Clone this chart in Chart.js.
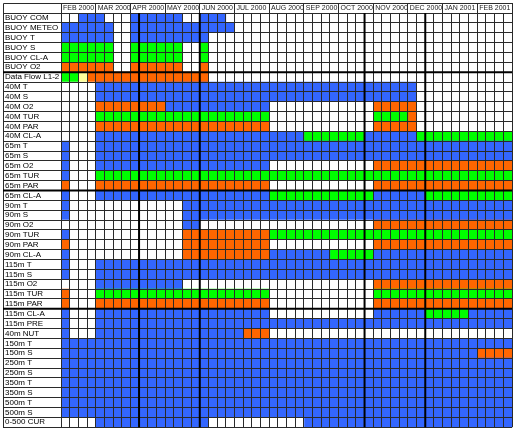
<!DOCTYPE html>
<html>
<head>
<meta charset="utf-8">
<script src="https://cdn.jsdelivr.net/npm/chart.js@4/dist/chart.umd.min.js"></script>
<style>
  body { margin: 0; background: #fff; }
  #wrap { width: 514px; height: 432px; }
</style>
</head>
<body>
<div id="wrap"><canvas id="gridChart"></canvas></div>
<script>
// month headers, each spans 4 weekly columns
const months = ["FEB 2000", "MAR 2000", "APR 2000", "MAY 2000", "JUN 2000", "JUL 2000",
  "AUG 2000", "SEP 2000", "OCT 2000", "NOV 2000", "DEC 2000", "JAN 2001", "FEB 2001"];

const rowLabels = [
  "BUOY COM", "BUOY METEO", "BUOY T", "BUOY S", "BUOY CL-A", "BUOY O2", "Data Flow L1-2",
  "40M T", "40M S", "40M O2", "40M TUR", "40M PAR", "40M CL-A",
  "65m T", "65m S", "65m O2", "65m TUR", "65m PAR", "65m CL-A",
  "90m T", "90m S", "90m O2", "90m TUR", "90m PAR", "90m CL-A",
  "115m T", "115m S", "115m O2", "115m TUR", "115m PAR", "115m CL-A", "115m PRE",
  "40m NUT", "150m T", "150m S", "250m T", "250m S", "350m T", "350m S",
  "500m T", "500m S", "0-500 CUR"
];

// weekly status per row: B blue, G green, O orange, Y yellow, . none
// (groups of 4 weeks = one month)
const cells = [
  "..BB B... BBBB BB.. BBB. .... .... .... .... .... .... .... ....",
  "BBBB BB.. BBBB BBBB BBBB .... .... .... .... .... .... .... ....",
  "BBBB BB.. BBBB BBBB B... .... .... .... .... .... .... .... ....",
  "GGGG GG.. GGGG GG.. G... .... .... .... .... .... .... .... ....",
  "GGGG GG.. GGGG GG.. G... .... .... .... .... .... .... .... ....",
  "OOOO OO.. OOOO OO.. O... .... .... .... .... .... .... .... ....",
  "GGYO OOOO OOOO OOOO O... .... .... .... .... .... .... .... ....",
  ".... BBBB BBBB BBBB BBBB BBBB BBBB BBBB BBBB BBBB B... .... ....",
  ".... BBBB BBBB BBBB BBBB BBBB BBBB BBBB BBBB BBBB B... .... ....",
  ".... OOOO OOOO BBBB BBBB BBBB .... .... .... OOOO O... .... ....",
  ".... GGGG GGGG GGGG GGGG GGGG .... .... .... GGGG O... .... ....",
  ".... OOOO OOOO OOOO OOOO OOOO .... .... .... OOOO O... .... ....",
  ".... BBBB BBBB BBBB BBBB BBBB BBBB GGGG GGGB BBBB BGGG GGGG GGGG",
  "B... BBBB BBBB BBBB BBBB BBBB BBBB BBBB BBBB BBBB BBBB BBBB BBBB",
  "B... BBBB BBBB BBBB BBBB BBBB BBBB BBBB BBBB BBBB BBBB BBBB BBBB",
  "B... BBBB BBBB BBBB BBBB BBBB .... .... .... OOOO OOOO OOOO OOOO",
  "B... GGGG GGGG GGGG GGGG GGGG GGGG GGGG GGGG GGGG GGGG GGGG GGGG",
  "O... OOOO OOOO OOOO OOOO OOOO .... .... .... OOOO OOOO OOOO OOOO",
  "B... BBBB BBBB BBBB BBBB BBBB GGGG GGGG GGGG BBBB BBGG GGGG GGGG",
  "B... .... .... ..BB BBBB BBBB BBBB BBBB BBBB BBBB BBBB BBBB BBBB",
  "B... .... .... ..BB BBBB BBBB BBBB BBBB BBBB BBBB BBBB BBBB BBBB",
  ".... .... .... ..BB .... .... .... .... .... OOOO OOOO OOOO OOOO",
  "B... .... .... ..OO OOOO OOOO GGGG GGGG GGGG GGGG GGGG GGGG GGGG",
  "O... .... .... ..OO OOOO OOOO .... .... .... OOOO OOOO OOOO OOOO",
  "B... .... .... ..OO OOOO OOOO BBBB BBBG GGGG BBBB BBBB BBBB BBBB",
  "B... BBBB BBBB BBBB BBBB BBBB BBBB BBBB BBBB BBBB BBBB BBBB BBBB",
  "B... BBBB BBBB BBBB BBBB BBBB BBBB BBBB BBBB BBBB BBBB BBBB BBBB",
  ".... BBBB BBBB BB.. .... .... .... .... .... OOOO OOOO OOOO OOOO",
  "O... GGGG GGGG GGGG GGGG GGGG .... .... .... GGGG GGGG GGGG GGGG",
  "O... OOOO OOOO OOOO OOOO OOOO .... .... .... OOOO OOOO OOOO OOOO",
  "B... BBBB BBBB BBBB BBBB BBBB .... .... .... BBBB BBGG GGGB BBBB",
  "B... BBBB BBBB BBBB BBBB BBBB BBBB BBBB BBBB BBBB BBBB BBBB BBBB",
  "B... BBBB BBBB BBBB BBBB BOOO .... .... .... .... .... .... ....",
  "BBBB BBBB BBBB BBBB BBBB BBBB BBBB BBBB BBBB BBBB BBBB BBBB BBBB",
  "BBBB BBBB BBBB BBBB BBBB BBBB BBBB BBBB BBBB BBBB BBBB BBBB OOOO",
  "BBBB BBBB BBBB BBBB BBBB BBBB BBBB BBBB BBBB BBBB BBBB BBBB BBBB",
  "BBBB BBBB BBBB BBBB BBBB BBBB BBBB BBBB BBBB BBBB BBBB BBBB BBBB",
  "BBBB BBBB BBBB BBBB BBBB BBBB BBBB BBBB BBBB BBBB BBBB BBBB BBBB",
  "BBBB BBBB BBBB BBBB BBBB BBBB BBBB BBBB BBBB BBBB BBBB BBBB BBBB",
  "BBBB BBBB BBBB BBBB BBBB BBBB BBBB BBBB BBBB BBBB BBBB BBBB BBBB",
  "BBBB BBBB BBBB BBBB BBBB BBBB BBBB BBBB BBBB BBBB BBBB BBBB BBBB",
  ".... BBBB BBBB BBBB B... .... .... BBBB BBBB BBBB BBBB BBBB BBBB"
].map(s => s.replace(/ /g, ""));

const statusColors = { B: "#3366FF", G: "#00FF00", O: "#FF6600", Y: "#FFFF99", ".": "#FFFFFF" };

// heavier separators (week index / row index where they sit)
const thickCols = [9, 16, 35, 42];
const thickRows = [6, 18, 30];

const weeks = cells[0].length;
const lineColor = "#2a2a2a";

Chart.defaults.font.family = "'Liberation Sans', Arial, sans-serif";

const datasets = [];
for (let w = 0; w < weeks; w++) {
  datasets.push({
    data: cells.map(() => 1),
    backgroundColor: cells.map(r => statusColors[r[w]]),
    borderWidth: 0,
    barPercentage: 1,
    categoryPercentage: 1
  });
}

const tableFrame = {
  id: "tableFrame",
  afterDraw(chart) {
    const { ctx, chartArea: a, scales: { x, y } } = chart;
    const left = 3.5, top = x.top + 0.5;
    ctx.save();
    ctx.strokeStyle = lineColor;
    ctx.lineWidth = 1;
    ctx.beginPath();
    ctx.moveTo(left, a.bottom);
    ctx.lineTo(left, top);
    ctx.lineTo(a.right, top);
    ctx.stroke();

    ctx.strokeStyle = "#000";
    ctx.lineWidth = 2;
    ctx.beginPath();
    thickCols.forEach(c => {
      const px = x.getPixelForValue(c);
      ctx.moveTo(px, a.top);
      ctx.lineTo(px, a.bottom);
    });
    thickRows.forEach(r => {
      const py = (y.getPixelForValue(r - 1) + y.getPixelForValue(r)) / 2;
      ctx.moveTo(3, py);
      ctx.lineTo(a.right, py);
    });
    ctx.stroke();
    ctx.restore();
  }
};

new Chart(document.getElementById("gridChart"), {
  type: "bar",
  data: { labels: rowLabels, datasets: datasets },
  options: {
    indexAxis: "y",
    responsive: true,
    maintainAspectRatio: false,
    animation: false,
    layout: { padding: { left: 5, top: 3, right: 2, bottom: 3 } },
    plugins: { legend: { display: false }, tooltip: { enabled: false } },
    scales: {
      x: {
        type: "linear",
        position: "top",
        stacked: true,
        min: 0,
        max: weeks,
        afterBuildTicks: s => { s.ticks = Array.from({ length: weeks + 1 }, (_, i) => ({ value: i })); },
        afterFit: s => { s.height = 10; },
        grid: {
          z: 1,
          color: lineColor,
          tickLength: 10,
          tickColor: c => (c.tick && c.tick.value % 4 === 0) ? lineColor : "rgba(0,0,0,0)"
        },
        border: { color: lineColor, z: 1 },
        ticks: {
          autoSkip: false,
          maxRotation: 0,
          align: "start",
          padding: -9,
          color: "#222",
          font: { size: 7 },
          callback: v => (v % 4 === 0 && v < weeks) ? " " + months[v / 4] : ""
        }
      },
      y: {
        stacked: true,
        offset: true,
        afterFit: s => { s.width = 56; },
        grid: { z: 1, offset: true, color: lineColor, tickLength: 58 },
        border: { color: lineColor, z: 1 },
        ticks: { crossAlign: "far", padding: 0, autoSkip: false, color: "#000", font: { size: 8 } }
      }
    }
  },
  plugins: [tableFrame]
});
</script>
</body>
</html>
